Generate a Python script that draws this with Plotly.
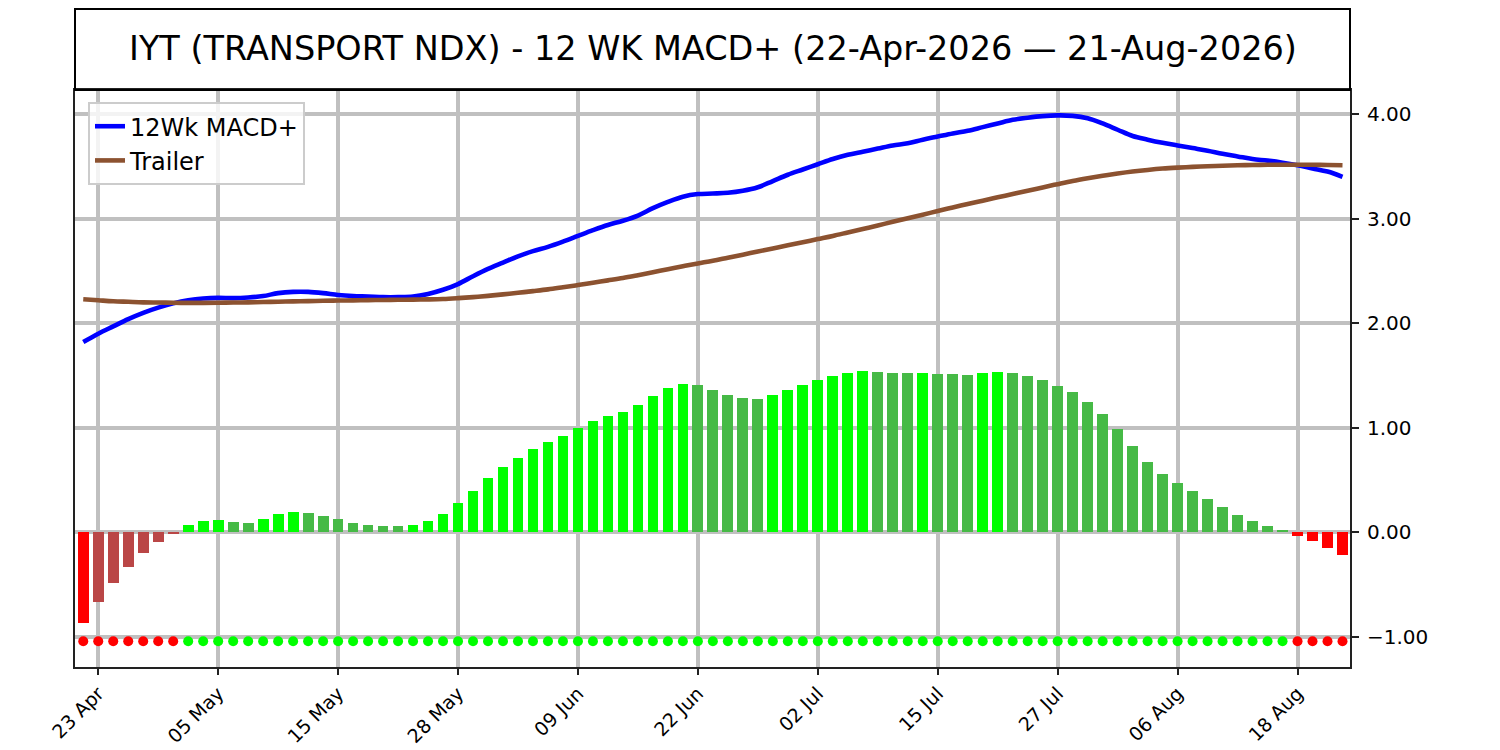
import pandas as pd
import plotly.graph_objects as go

# trading days 22-Apr-2026 .. 21-Aug-2026 (US market holidays skipped)
holidays = ["2026-05-25", "2026-06-19", "2026-07-03"]
days = [d for d in pd.bdate_range("2026-04-22", "2026-08-21") if d.strftime("%Y-%m-%d") not in holidays]
dates = [d.strftime("%Y-%m-%d") for d in days]

# 12 week MACD+ line
macd = [1.82, 1.90, 1.97, 2.04, 2.10, 2.15, 2.19, 2.22, 2.237, 2.243,
        2.24, 2.246, 2.26, 2.288, 2.30, 2.30, 2.288, 2.27, 2.26, 2.256,
        2.25, 2.25, 2.255, 2.28, 2.32, 2.375, 2.45, 2.52, 2.58, 2.64,
        2.69, 2.73, 2.78, 2.835, 2.89, 2.94, 2.98, 3.03, 3.10, 3.16,
        3.21, 3.235, 3.24, 3.247, 3.266, 3.30, 3.36, 3.42, 3.47, 3.52,
        3.57, 3.61, 3.64, 3.67, 3.70, 3.72, 3.755, 3.785, 3.815, 3.84,
        3.875, 3.91, 3.945, 3.965, 3.98, 3.987, 3.983, 3.96, 3.91, 3.85,
        3.79, 3.755, 3.725, 3.70, 3.675, 3.65, 3.62, 3.595, 3.57, 3.555,
        3.535, 3.51, 3.48, 3.45, 3.40]

# trailer (signal) line
trailer = [2.23, 2.22, 2.21, 2.205, 2.20, 2.198, 2.196, 2.195, 2.195, 2.196,
           2.198, 2.20, 2.203, 2.206, 2.209, 2.212, 2.215, 2.217, 2.219, 2.221,
           2.223, 2.225, 2.226, 2.228, 2.232, 2.24, 2.25, 2.262, 2.276, 2.291,
           2.307, 2.324, 2.344, 2.365, 2.388, 2.41, 2.433, 2.46, 2.488, 2.516,
           2.545, 2.572, 2.598, 2.627, 2.656, 2.686, 2.715, 2.745, 2.775, 2.805,
           2.835, 2.868, 2.901, 2.935, 2.97, 3.004, 3.038, 3.073, 3.107, 3.14,
           3.172, 3.204, 3.235, 3.267, 3.299, 3.33, 3.36, 3.386, 3.41, 3.431,
           3.45, 3.466, 3.479, 3.488, 3.495, 3.501, 3.506, 3.51, 3.513, 3.515,
           3.516, 3.516, 3.515, 3.513, 3.51]

# histogram
hist = [-0.864, -0.663, -0.48, -0.33, -0.195, -0.09, -0.01, 0.073, 0.108, 0.118,
        0.099, 0.095, 0.127, 0.175, 0.194, 0.19, 0.156, 0.127, 0.089, 0.070,
        0.06, 0.058, 0.07, 0.108, 0.175, 0.28, 0.395, 0.52, 0.625, 0.71,
        0.797, 0.863, 0.92, 0.997, 1.064, 1.112, 1.15, 1.217, 1.303, 1.38,
        1.418, 1.408, 1.36, 1.313, 1.284, 1.274, 1.313, 1.36, 1.408, 1.456,
        1.494, 1.523, 1.542, 1.532, 1.523, 1.520, 1.522, 1.518, 1.513, 1.51,
        1.52, 1.53, 1.52, 1.494, 1.456, 1.398, 1.34, 1.245, 1.13, 0.987,
        0.825, 0.672, 0.557, 0.47, 0.395, 0.318, 0.242, 0.165, 0.108, 0.06,
        0.022, -0.032, -0.08, -0.147, -0.214]

SIGNAL_LEVEL = -1.04

BRIGHT_RED, DARK_RED = "#ff0000", "#ba4646"
BRIGHT_GREEN, DARK_GREEN = "#00ff00", "#46ba46"

bar_colors = []
for i, v in enumerate(hist):
    prev = hist[i - 1] if i > 0 else None
    if v >= 0:
        bar_colors.append(BRIGHT_GREEN if prev is None or v >= prev else DARK_GREEN)
    else:
        bar_colors.append(BRIGHT_RED if prev is None or v <= prev else DARK_RED)
dot_colors = [BRIGHT_GREEN if v >= 0 else BRIGHT_RED for v in hist]

tick_vals = dates[1::8]
tick_text = [pd.Timestamp(d).strftime("%d %b") for d in tick_vals]

FONT = "DejaVu Sans"

fig = go.Figure()
fig.add_trace(go.Bar(x=dates, y=hist, marker=dict(color=bar_colors, line_width=0),
                     width=0.72, showlegend=False))
fig.add_trace(go.Scatter(x=dates, y=[SIGNAL_LEVEL] * len(dates), mode="markers",
                         marker=dict(color=dot_colors, size=10), showlegend=False))
fig.add_trace(go.Scatter(x=dates, y=macd, mode="lines", name="12Wk MACD+",
                         line=dict(color="#0000ff", width=4.6, shape="spline")))
fig.add_trace(go.Scatter(x=dates, y=trailer, mode="lines", name="Trailer",
                         line=dict(color="#8c5230", width=4.6, shape="spline")))

# page has an 8px body margin, so the figure is offset by that much
W, H = 1492, 742
m_l, m_r, m_t, m_b = 67, 150, 82, 83
plot_h = H - m_t - m_b
fig.add_shape(type="rect", xref="paper", yref="paper", x0=0, x1=1,
              y0=1, y1=1 + 81 / plot_h, line=dict(color="black", width=2))
fig.add_annotation(text="IYT (TRANSPORT NDX) - 12 WK MACD+ (22-Apr-2026 \u2014 21-Aug-2026)",
                   xref="paper", yref="paper", x=0.5, y=1 + 41 / plot_h,
                   showarrow=False, font=dict(family=FONT, size=33.5, color="black"),
                   xanchor="center", yanchor="middle")

fig.update_layout(
    width=W, height=H,
    margin=dict(l=m_l, r=m_r, t=m_t, b=m_b),
    plot_bgcolor="white", paper_bgcolor="white",
    font=dict(family=FONT, size=20, color="black"),
    bargap=0,
    legend=dict(x=0.0102, y=0.979, xanchor="left", yanchor="top",
                bgcolor="rgba(255,255,255,0.8)", bordercolor="#cccccc", borderwidth=2,
                font=dict(size=24), itemwidth=30, tracegroupgap=0),
)
fig.update_xaxes(type="category", range=[-0.55, 84.5], tickmode="array",
                 tickvals=tick_vals, ticktext=tick_text, tickangle=-45, automargin=False,
                 tickfont=dict(size=19),
                 showgrid=True, gridcolor="#c0c0c0", gridwidth=3.5,
                 showline=True, linecolor="#222222", linewidth=2, mirror=True,
                 ticks="outside", ticklen=6, tickwidth=2, tickcolor="#222222")
fig.update_yaxes(side="right", range=[-1.286, 4.23], tickmode="array",
                 tickvals=[-1, 0, 1, 2, 3, 4], tickformat=".2f", automargin=False,
                 showgrid=True, gridcolor="#c0c0c0", gridwidth=3.5, zeroline=False,
                 showline=True, linecolor="#222222", linewidth=2, mirror=True,
                 ticks="outside", ticklen=7, tickwidth=2, tickcolor="#222222",
                 ticklabelstandoff=4)

fig.write_html("out.html")
